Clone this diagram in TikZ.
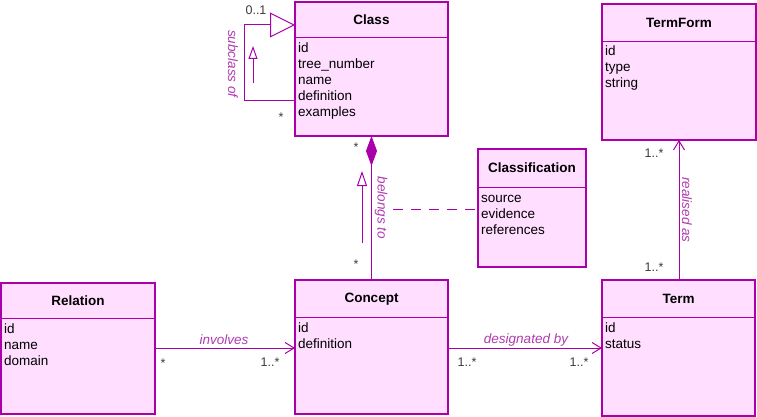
\documentclass[tikz,border=0pt]{standalone}
\usepackage{fontspec}
\setmainfont{Liberation Sans}
\usetikzlibrary{arrows.meta}
\definecolor{umlfill}{RGB}{255,222,255}
\definecolor{umlline}{RGB}{170,0,170}
\definecolor{umllabel}{RGB}{175,60,175}
\definecolor{multc}{RGB}{60,60,60}
\begin{document}
\begin{tikzpicture}[x=1pt,y=-1pt,
 cls/.style={draw=umlline, fill=umlfill, line width=2pt, anchor=north west, inner sep=0pt, outer sep=0pt},
 ttl/.style={font=\fontsize{13.5}{16}\selectfont\bfseries, anchor=center, inner sep=0pt},
 attr/.style={font=\fontsize{13.5}{16}\selectfont, anchor=base west, inner sep=0pt},
 sepl/.style={draw=umlline, line width=1pt},
 conn/.style={draw=umlline, line width=1pt},
 lbl/.style={font=\fontsize{13.5}{16}\selectfont\itshape, text=umllabel, inner sep=0pt},
 mult/.style={font=\fontsize{12.5}{15}\selectfont, text=multc, inner sep=0pt},
 openv/.style={-{Straight Barb[length=9pt,width=11pt]}}
]
\fill[white] (0,0) rectangle (757,417);
\useasboundingbox (0,0) rectangle (757,417);

% ---------- Class ----------
\node[cls, minimum width=153pt, minimum height=134pt] (class) at (295,2) {};
\draw[sepl] (295,38) -- (448,38);
\node[ttl] (classT) at (371.5,20) {Class};
\node[attr] (classA1) at (298,53) {id};
\node[attr] (classA2) at (298,69) {tree\_number};
\node[attr] (classA3) at (298,85) {name};
\node[attr] (classA4) at (298,101) {definition};
\node[attr] (classA5) at (298,117) {examples};

% ---------- TermForm ----------
\node[cls, minimum width=154pt, minimum height=136pt] (termform) at (602,4) {};
\draw[sepl] (602,42) -- (756,42);
\node[ttl] (termformT) at (679,23) {TermForm};
\node[attr] (tfA1) at (605,56) {id};
\node[attr] (tfA2) at (605,72) {type};
\node[attr] (tfA3) at (605,88) {string};

% ---------- Classification ----------
\node[cls, minimum width=108pt, minimum height=118pt] (classification) at (478,149) {};
\draw[sepl] (478,187) -- (586,187);
\node[ttl] (classificationT) at (532,168) {Classification};
\node[attr] (clA1) at (481,202) {source};
\node[attr] (clA2) at (481,218) {evidence};
\node[attr] (clA3) at (481,234) {references};

% ---------- Relation ----------
\node[cls, minimum width=154pt, minimum height=131pt] (relation) at (1,283) {};
\draw[sepl] (1,318) -- (155,318);
\node[ttl] (relationT) at (78,301) {Relation};
\node[attr] (relA1) at (4,333) {id};
\node[attr] (relA2) at (4,349) {name};
\node[attr] (relA3) at (4,365) {domain};

% ---------- Concept ----------
\node[cls, minimum width=153pt, minimum height=134pt] (concept) at (295,280) {};
\draw[sepl] (295,317) -- (448,317);
\node[ttl] (conceptT) at (371.5,299) {Concept};
\node[attr] (conA1) at (298,332) {id};
\node[attr] (conA2) at (298,348) {definition};

% ---------- Term ----------
\node[cls, minimum width=153pt, minimum height=136pt] (term) at (602,280) {};
\draw[sepl] (602,317) -- (755,317);
\node[ttl] (termT) at (678.5,299) {Term};
\node[attr] (termA1) at (605,332) {id};
\node[attr] (termA2) at (605,348) {status};

% ---------- subclass of (self association) ----------
\coordinate (sc1) at (244,25);
\coordinate (sc2) at (244,101);
\draw[conn, -{Triangle[open, length=25pt, width=25pt]}]
  (class.west |- sc2) -- (sc2) -- (sc1) -- (class.west |- sc1);
\node[lbl, rotate=-90] (subL) at (233,64) {subclass of};
\coordinate (sa1) at (253,83);
\coordinate (sa2) at (253,46);
\draw[conn, -{Triangle[open, length=13pt, width=9pt]}] (sa1) -- (sa2);
\node[mult] (m01) at (256,10) {0..1};
\node[mult] (mstar1) at (281,117) {*};

% ---------- belongs to ----------
\draw[conn, -{Diamond[length=30pt, width=11pt, fill=umlline]}] (concept.north) -- (class.south);
\node[lbl, rotate=-90] (belL) at (381,208) {belongs to};
\coordinate (ba1) at (362,243);
\coordinate (ba2) at (362,171);
\draw[conn, -{Triangle[open, length=15pt, width=10pt]}] (ba1) -- (ba2);
\node[mult] (mstar2) at (356,147) {*};
\node[mult] (mstar3) at (356,264) {*};

% association class link
\coordinate (dl) at (393,209);
\draw[conn, dash pattern=on 10pt off 8pt] (dl) -- (classification.west |- dl);

% ---------- involves ----------
\coordinate (iv) at (0,348);
\draw[conn, openv] (relation.east |- iv) -- (concept.west |- iv);
\node[lbl] (invL) at (224,340) {involves};
\node[mult] (mstar4) at (163,363) {*};
\node[mult] (m1a) at (270,362) {1..*};

% ---------- designated by ----------
\draw[conn, openv] (concept.east |- iv) -- (term.west |- iv);
\node[lbl] (desL) at (526,340) {designated by};
\node[mult] (m1b) at (467,362) {1..*};
\node[mult] (m1c) at (579,362) {1..*};

% ---------- realised as ----------
\coordinate (ra) at (679,0);
\draw[conn, openv] (term.north -| ra) -- (termform.south -| ra);
\node[lbl, rotate=-90] (reaL) at (687,210) {realised as};
\node[mult] (m1d) at (654,153) {1..*};
\node[mult] (m1e) at (654,267) {1..*};
\end{tikzpicture}
\end{document}
